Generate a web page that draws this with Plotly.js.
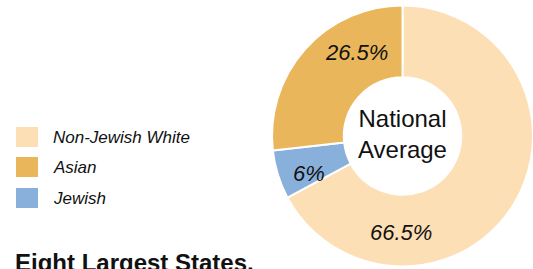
<!DOCTYPE html>
<html>
<head>
<meta charset="utf-8">
<script src="https://cdn.plot.ly/plotly-3.0.1.min.js"></script>
<style>html,body{margin:0;padding:0;background:#fff;}#chart{width:533px;height:269px;}</style>
</head>
<body>
<div id="chart"></div>
<script>
// Data
var categories = ["Non-Jewish White", "Jewish", "Asian"];
var values = [66.5, 6, 26.5];
var colors = ["#FDDFB5", "#89AFDB", "#E9B65B"];
var legendOrder = ["Non-Jewish White", "Asian", "Jewish"];
var centerText = "National<br>Average";
var subtitle = "Eight Largest States,";

var W = 533, H = 269;
var FONT = "Liberation Sans, Arial, Helvetica, sans-serif";

// pie geometry (pixels)
var cx = 402.5, cy = 136, R = 130.5, hole = 0.45;
var labelAngles = [181, 248, 331]; // degrees clockwise from 12 o'clock
var labelR = [97, 101, 95];

var annotations = [];
// slice labels
for (var i = 0; i < categories.length; i++) {
  var a = labelAngles[i] * Math.PI / 180;
  var px = cx + labelR[i] * Math.sin(a);
  var py = cy - labelR[i] * Math.cos(a);
  annotations.push({
    xref: "paper", yref: "paper", x: px / W, y: 1 - py / H,
    xanchor: "center", yanchor: "middle", showarrow: false,
    text: "<i>" + values[i] + "%</i>",
    font: {family: FONT, size: 22, color: "#111"}
  });
}
// center text
annotations.push({
  xref: "paper", yref: "paper", x: cx / W, y: 1 - (cy - 2) / H,
  xanchor: "center", yanchor: "middle", showarrow: false,
  text: centerText,
  font: {family: FONT, size: 24, color: "#111"}
});

// custom legend
var shapes = [];
var legTop = 127, legStep = 30, sw = 22, sh = 20, lx = 16;
for (var j = 0; j < legendOrder.length; j++) {
  var k = categories.indexOf(legendOrder[j]);
  var y0 = legTop + j * legStep + (j === 2 ? 1 : 0);
  shapes.push({
    type: "rect", xref: "paper", yref: "paper",
    x0: lx / W, x1: (lx + sw) / W,
    y0: 1 - (y0 + sh) / H, y1: 1 - y0 / H,
    fillcolor: colors[k], line: {width: 0}
  });
  annotations.push({
    xref: "paper", yref: "paper", x: 51 / W, y: 1 - (y0 + sh / 2) / H,
    xanchor: "left", yanchor: "middle", showarrow: false,
    text: "<i>" + legendOrder[j] + "</i>",
    font: {family: FONT, size: 17, color: "#111"}
  });
}
// bottom title (cut off at the lower edge, as in the reference)
annotations.push({
  xref: "paper", yref: "paper", x: 13 / W, y: 1 - 247 / H,
  xanchor: "left", yanchor: "top", showarrow: false,
  text: "<b>" + subtitle + "</b>",
  font: {family: FONT, size: 24, color: "#111"}
});

var trace = {
  type: "pie",
  labels: categories,
  values: values,
  sort: false,
  direction: "clockwise",
  rotation: 0,
  hole: hole,
  textinfo: "none",
  marker: {colors: colors, line: {color: "#ffffff", width: 2}},
  domain: {x: [(cx - R) / W, 1], y: [(H - cy - R) / H, (H - cy + R) / H]},
  showlegend: false,
  hoverinfo: "label+value"
};

var layout = {
  width: W, height: H,
  margin: {l: 0, r: 0, t: 0, b: 0},
  paper_bgcolor: "#ffffff",
  showlegend: false,
  annotations: annotations,
  shapes: shapes
};

Plotly.newPlot("chart", [trace], layout, {displayModeBar: false, staticPlot: true});
</script>
</body>
</html>
